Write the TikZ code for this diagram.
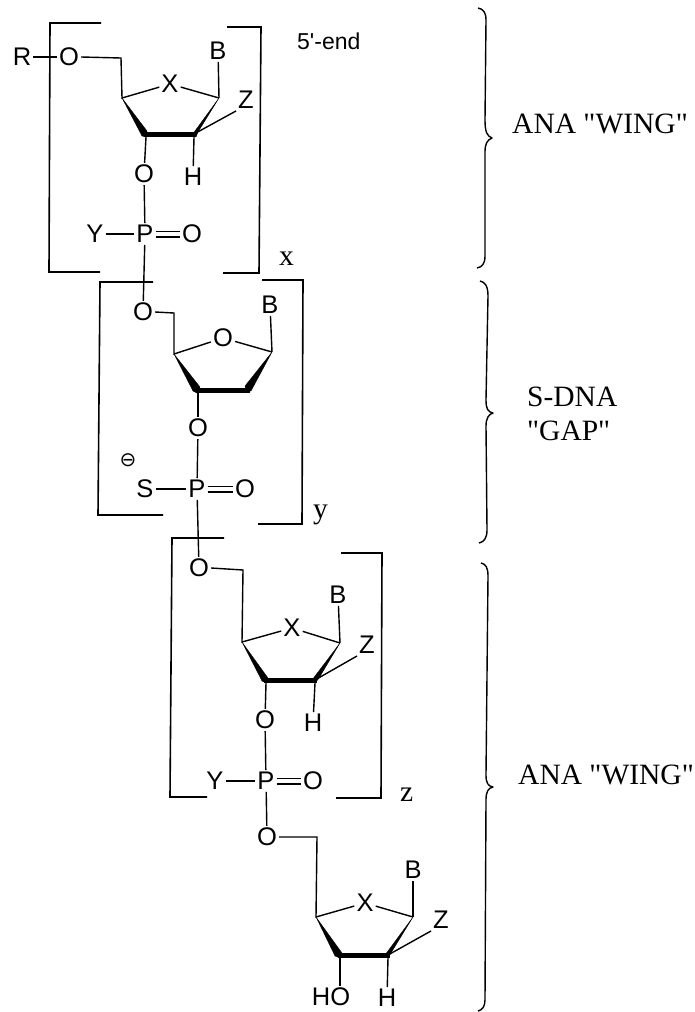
\documentclass[tikz,border=0pt]{standalone}
\usepackage{fontspec}
\setmainfont{Liberation Sans}
\newfontfamily\serifface{Liberation Serif}
\newfontfamily\symface{DejaVu Sans}
\tikzset{
  x=1pt,y=-1pt,
  atom/.style={inner sep=0pt,outer sep=2.2pt,font=\fontsize{25.5}{27}\selectfont},
  serif/.style={inner sep=0pt,font=\serifface\fontsize{29.5}{34}\selectfont,anchor=base west},
  bond/.style={line width=1.4pt,line join=miter},
  brack/.style={line width=1.6pt,line join=miter},
  wedge/.style={fill=black,draw=black,line width=.3pt,line join=round},
  brace/.style={line width=1.4pt,line join=round}
}
\begin{document}
\begin{tikzpicture}
\useasboundingbox (0,0) rectangle (695,1012);
% atoms
\node[atom] (r1) at (22,57) {R};
\node[atom] (o1) at (69,57) {O};
\node[atom] (x1) at (170,84) {X};
\node[atom] (b1) at (218,51) {B};
\node[atom] (z1) at (246,100) {Z};
\node[atom] (o1b) at (144,174) {O};
\node[atom] (h1) at (193,177) {H};
\node[atom] (y1) at (95,234) {Y};
\node[atom] (p1) at (145,234) {P};
\node[atom] (od1) at (192,234) {O};
\node[atom] (o2) at (143,312) {O};
\node[atom] (o2r) at (223,338) {O};
\node[atom] (b2) at (270,305) {B};
\node[atom] (o2b) at (198,428) {O};
\node[atom,font=\symface\fontsize{20}{20}\selectfont] (minus) at (128,460) {⊖};
\node[atom] (s2) at (145,489) {S};
\node[atom] (p2) at (197,489) {P};
\node[atom] (od2) at (245,489) {O};
\node[atom] (o3) at (199,568) {O};
\node[atom] (x3) at (292,628) {X};
\node[atom] (b3) at (338,595) {B};
\node[atom] (z3) at (367,645) {Z};
\node[atom] (o3b) at (265,720) {O};
\node[atom] (h3) at (313,723) {H};
\node[atom] (y3) at (215,781) {Y};
\node[atom] (p3) at (266,781) {P};
\node[atom] (od3) at (313,781) {O};
\node[atom] (o4) at (267,837) {O};
\node[atom] (x4) at (365,903) {X};
\node[atom] (b4) at (413,870) {B};
\node[atom] (z4) at (441,920) {Z};
\node[atom] (ho4) at (331,997) {HO};
\node[atom] (h4) at (387,998) {H};
% first unit
\coordinate (c1a) at (122,98);
\coordinate (c1c) at (194,134);
\coordinate (c1d) at (219,98);
\draw[bond] (r1) -- (o1);
\draw[bond] (o1.east) -- (121,58) -- (c1a) -- (x1);
\draw[bond] (x1) -- (c1d);
\draw[bond] (c1d) -- (b1);
\draw[bond] (c1c) -- (z1.south west);
\draw[wedge] (c1a) -- (147,131) -- (146,137) -- (142,136) -- cycle;
\fill (144,132) rectangle (196,137);
\draw[wedge] (c1d) -- (198,132) -- (196,137) -- (192,135) -- cycle;
\draw[bond] (146,137) -- (o1b);
\draw[bond] (194,137) -- (h1);
\draw[bond] (o1b) -- (p1);
\draw[bond] (y1) -- (p1);
\draw[bond] ([yshift=2.8pt]p1.east) -- (od1.west |- 0,231.2);
\draw[bond] ([yshift=-2.8pt]p1.east) -- (od1.west |- 0,236.8);
\draw[bond] (p1) -- (o2);
\draw[brack] (101,23) -- (50,23) -- (49,272) -- (100,272);
\draw[brack] (227,27) -- (261,27) -- (259,273) -- (223,273);
\node[serif] (nx) at (279,265) {x};
\node[inner sep=0pt,font=\fontsize{23}{25}\selectfont,anchor=west] (endlabel) at (297,41) {5\textquotesingle-end};
% second unit
\coordinate (c2a) at (174,354);
\coordinate (c2d) at (272,352);
\draw[bond] (o2.east) -- (174,313) -- (c2a) -- (o2r);
\draw[bond] (o2r) -- (c2d);
\draw[bond] (c2d) -- (b2);
\draw[wedge] (c2a) -- (200,387) -- (197,393) -- (193,391) -- cycle;
\fill (196,388) rectangle (250,392.5);
\draw[wedge] (c2d) -- (251,391) -- (246,391) -- (245,386) -- cycle;
\draw[bond] (198,392) -- (o2b);
\draw[bond] (o2b) -- (p2);
\draw[bond] (s2) -- (p2);
\draw[bond] ([yshift=2.8pt]p2.east) -- (od2.west |- 0,486.2);
\draw[bond] ([yshift=-2.8pt]p2.east) -- (od2.west |- 0,491.8);
\draw[bond] (p2) -- (o3);
\draw[brack] (153,282) -- (100,282) -- (98,515) -- (163,515);
\draw[brack] (262,280) -- (303,280) -- (302,524) -- (258,524);
\node[serif] (ny) at (313,518) {y};
% third unit
\coordinate (c3a) at (242,642);
\coordinate (c3c) at (315,680);
\coordinate (c3d) at (340,643);
\draw[bond] (o3.east) -- (243,570) -- (c3a) -- (x3);
\draw[bond] (x3) -- (c3d);
\draw[bond] (c3d) -- (b3);
\draw[bond] (c3c) -- (z3.south west);
\draw[wedge] (c3a) -- (268,678) -- (266,683) -- (262,681) -- cycle;
\fill (264,678) rectangle (317,683);
\draw[wedge] (c3d) -- (319,678) -- (316,682) -- (312,680) -- cycle;
\draw[bond] (266,683) -- (o3b);
\draw[bond] (315,683) -- (h3);
\draw[bond] (o3b) -- (p3);
\draw[bond] (y3) -- (p3);
\draw[bond] ([yshift=2.8pt]p3.east) -- (od3.west |- 0,778.2);
\draw[bond] ([yshift=-2.8pt]p3.east) -- (od3.west |- 0,783.8);
\draw[bond] (p3) -- (o4);
\draw[brack] (224,538) -- (172,538) -- (170,797) -- (207,797);
\draw[brack] (341,553) -- (382,553) -- (381,798) -- (336,798);
\node[serif] (nz) at (400,801) {z};
% last unit
\coordinate (c4a) at (316,917);
\coordinate (c4c) at (388,955);
\coordinate (c4d) at (413,917);
\draw[bond] (o4.east) -- (317,837) -- (c4a) -- (x4);
\draw[bond] (x4) -- (c4d);
\draw[bond] (c4d) -- (b4);
\draw[bond] (c4c) -- (z4.south west);
\draw[wedge] (c4a) -- (342,953) -- (340,958) -- (335,956) -- cycle;
\fill (338,953) rectangle (390,958);
\draw[wedge] (c4d) -- (391,953) -- (388,958) -- (385,955) -- cycle;
\draw[bond] (340,958) -- (ho4.north -| 340,0);
\draw[bond] (388,958) -- (h4);
% braces
\draw[brace] (478,8) .. controls (483,9) and (486,12) .. (486,20) -- (485,120) .. controls (485,132) and (487,136) .. (492,138) .. controls (487,140) and (485,144) .. (485,152) -- (485,256) .. controls (485,264) and (482,267) .. (477,268);
\draw[brace] (480,281) .. controls (485,282) and (488,286) .. (488,296) -- (486,400) .. controls (486,409) and (488,412) .. (493,413) .. controls (489,414) and (486,418) .. (486,426) -- (487,530) .. controls (487,538) and (484,542) .. (479,543);
\draw[brace] (481,563) .. controls (486,564) and (488,568) .. (488,576) -- (486,775) .. controls (486,783) and (488,786) .. (493,787) .. controls (488,788) and (486,792) .. (486,800) -- (485,1000) .. controls (485,1007) and (482,1010) .. (478,1011);
\node[serif] (w1) at (512,133) {ANA "WING"};
\node[serif] (gap1) at (527,406) {S-DNA};
\node[serif] (gap2) at (527,440) {"GAP"};
\node[serif] (w2) at (518,784) {ANA "WING"};
\end{tikzpicture}
\end{document}
